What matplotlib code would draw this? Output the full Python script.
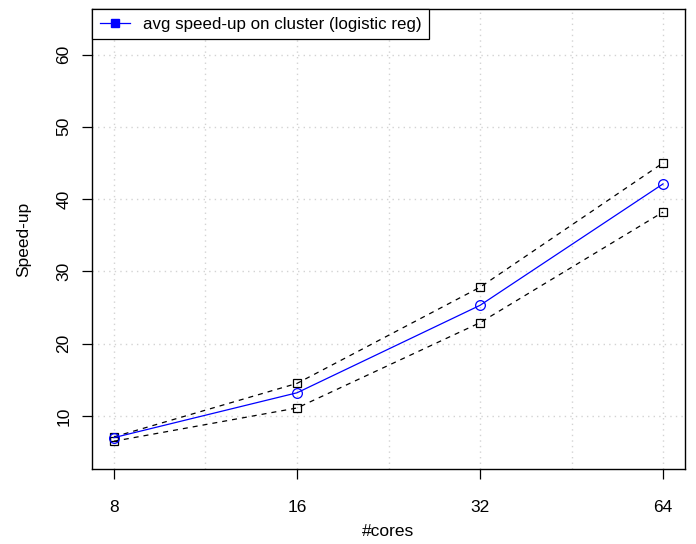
import numpy as np
import matplotlib
matplotlib.use("Agg")
import matplotlib.pyplot as plt
from matplotlib.lines import Line2D

plt.rcParams["font.family"] = ["Liberation Sans", "DejaVu Sans"]

cores = [8, 16, 32, 64]
speedup_avg = [7.0, 13.2, 25.3, 42.1]
speedup_upper = [7.1, 14.5, 27.8, 45.0]
speedup_lower = [6.5, 11.1, 22.9, 38.2]
y_ticks = [10, 20, 30, 40, 50, 60]
x_grid = [8, 11.31, 16, 22.63, 32, 45.25, 64]

fig = plt.figure(figsize=(6.96, 5.44), dpi=100)
ax = fig.add_axes([0.1322, 0.1379, 0.8520, 0.8456])

ax.set_xscale("log", base=2)
ax.set_xlim(8 / 2 ** 0.12, 64 * 2 ** 0.12)
ax.set_ylim(2.66, 66.3)

# dotted light-grey grid
for gx in x_grid:
    ax.axvline(gx, color="#d3d3d3", linestyle=(0, (1, 3)), linewidth=1, zorder=0)
for gy in y_ticks:
    ax.axhline(gy, color="#d3d3d3", linestyle=(0, (1, 3)), linewidth=1, zorder=0)

ax.plot(cores, speedup_upper, color="black", linestyle=(0, (4, 4)), linewidth=0.9,
        marker="s", markersize=6, markerfacecolor="none", markeredgewidth=0.9)
ax.plot(cores, speedup_lower, color="black", linestyle=(0, (4, 4)), linewidth=0.9,
        marker="s", markersize=6, markerfacecolor="none", markeredgewidth=0.9)
ax.plot(cores, speedup_avg, color="blue", linewidth=0.9,
        marker="o", markersize=7, markerfacecolor="none", markeredgewidth=0.9)

ax.set_xticks(cores)
ax.set_xticklabels([str(c) for c in cores])
ax.minorticks_off()
ax.set_yticks(y_ticks)
ax.set_yticklabels([str(v) for v in y_ticks], rotation=90, va="center")
ax.tick_params(axis="both", direction="out", length=7, width=0.9, labelsize=12.5)
ax.tick_params(axis="x", pad=15)
ax.tick_params(axis="y", pad=8)
for sp in ax.spines.values():
    sp.set_linewidth(1.0)

ax.set_xlabel("#cores", fontsize=12.5, labelpad=7)
ax.set_ylabel("Speed-up", fontsize=12.5, labelpad=18)

handle = Line2D([], [], color="blue", linewidth=0.9, marker="s", markersize=6,
                markerfacecolor="blue", markeredgecolor="blue")
leg = ax.legend([handle], ["avg speed-up on cluster (logistic reg)"], loc="upper left",
                bbox_to_anchor=(0, 1), borderaxespad=0, fontsize=12.2, fancybox=False,
                framealpha=1, edgecolor="black", handlelength=1.8, handletextpad=0.75,
                borderpad=0.45)
leg.get_frame().set_linewidth(0.9)

fig.savefig("out.png", dpi=100)
